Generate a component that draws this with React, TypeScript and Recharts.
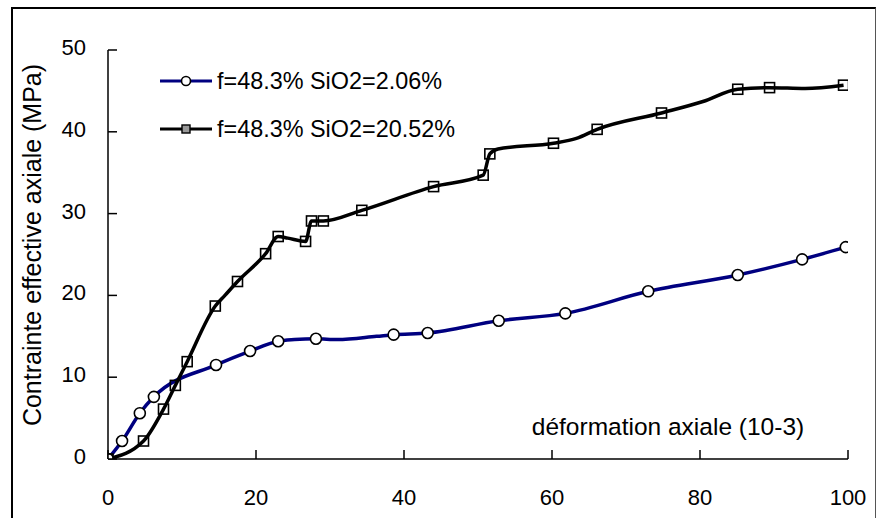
import React from "react";
import { LineChart, Line, XAxis, YAxis } from "recharts";

// lectures sur la courbe f=48.3% SiO2=2.06% (points avec marqueur)
const blueStrain = [0, 1.9, 4.3, 6.2, 14.6, 19.2, 23, 28.1, 38.6, 43.2, 52.8, 61.8, 73, 85.1, 93.8, 99.7];
const blueStress = [0, 2.2, 5.6, 7.6, 11.5, 13.2, 14.4, 14.7, 15.2, 15.4, 16.9, 17.8, 20.5, 22.5, 24.4, 25.9];
// points de la courbe sans marqueur
const blueExtraStrain = [25.2, 31, 36.3];
const blueExtraStress = [14.6, 14.6, 15.0];

// f=48.3% SiO2=20.52%
const blackStrain = [0, 4.8, 7.5, 9.1, 10.7, 14.5, 17.5, 21.3, 23.0, 26.7, 27.5, 29.1, 34.3, 44.0, 50.7, 51.6, 60.2, 66.1, 74.8, 85.1, 89.4, 99.4];
const blackStress = [0, 2.2, 6.1, 9.0, 11.9, 18.7, 21.7, 25.1, 27.2, 26.6, 29.1, 29.1, 30.4, 33.3, 34.7, 37.3, 38.6, 40.3, 42.3, 45.2, 45.4, 45.7];
const blackExtraStrain = [15.8, 24.3, 52.7, 63.3, 80.4, 94.2];
const blackExtraStress = [20.0, 27.0, 37.9, 39.2, 43.7, 45.3];

const xTicks = [0, 20, 40, 60, 80, 100];
const yTicks = [0, 10, 20, 30, 40, 50];

const seriesNames = ["f=48.3% SiO2=2.06%", "f=48.3% SiO2=20.52%"];
const xTitle = "déformation axiale (10-3)";
const yTitle = "Contrainte effective axiale (MPa)";

const FONT = "'Liberation Sans', Arial, sans-serif";
const BLUE = "#000080";

type Pt = { x: number; y: number; marker: boolean };

function buildSeries(xs: number[], ys: number[], ex: number[], ey: number[]): Pt[] {
  const pts: Pt[] = xs.map((x, i) => ({ x, y: ys[i], marker: true }));
  ex.forEach((x, i) => pts.push({ x, y: ey[i], marker: false }));
  return pts.sort((a, b) => a.x - b.x);
}

const blueData = buildSeries(blueStrain, blueStress, blueExtraStrain, blueExtraStress);
const blackData = buildSeries(blackStrain, blackStress, blackExtraStrain, blackExtraStress);

const circleDot = (p: any) => {
  if (!p.payload.marker) return <g key={`c${p.index}`} />;
  return <circle key={`c${p.index}`} cx={p.cx} cy={p.cy} r={5.5} fill="#fff" stroke="#000" strokeWidth={1.6} />;
};

const squareDot = (p: any) => {
  if (!p.payload.marker) return <g key={`s${p.index}`} />;
  return (
    <rect key={`s${p.index}`} x={p.cx - 5} y={p.cy - 5} width={10} height={10} fill="none" stroke="#000" strokeWidth={1.6} />
  );
};

const YTick = (p: any) => (
  <g>
    <line x1={p.x} x2={p.x + 9} y1={p.y} y2={p.y} stroke="#000" strokeWidth={1.5} />
    <text x={p.x - 22} y={p.y + 5} textAnchor="end" fontSize={22} fontFamily={FONT} fill="#000">
      {p.payload.value}
    </text>
  </g>
);

const XTick = (p: any) => (
  <g>
    <line x1={p.x} x2={p.x} y1={p.y} y2={p.y - 9} stroke="#000" strokeWidth={1.5} />
    <text x={p.x} y={p.y + 46} textAnchor="middle" fontSize={22} fontFamily={FONT} fill="#000">
      {p.payload.value}
    </text>
  </g>
);

function ChartLegend() {
  return (
    <svg
      width={340}
      height={80}
      style={{ position: "absolute", left: 158, top: 64, overflow: "visible" }}
    >
      <line x1={2} x2={54} y1={17} y2={17} stroke={BLUE} strokeWidth={3} />
      <circle cx={28} cy={17} r={4.5} fill="#fff" stroke="#000" strokeWidth={1.6} />
      <text x={59} y={25} fontSize={23.4} fontFamily={FONT} fill="#000">{seriesNames[0]}</text>
      <line x1={2} x2={54} y1={65} y2={65} stroke="#000" strokeWidth={3} />
      <rect x={24} y={61} width={8} height={8} fill="#999" stroke="#000" strokeWidth={1.4} />
      <text x={59} y={73} fontSize={23.4} fontFamily={FONT} fill="#000">{seriesNames[1]}</text>
    </svg>
  );
}

export default function App() {
  return (
    <div style={{ position: "fixed", left: 0, top: 0, width: 876, height: 518, background: "#fff", overflow: "hidden" }}>
      <div
        style={{
          position: "absolute",
          left: 11,
          top: 7,
          width: 862,
          height: 530,
          borderLeft: "2px solid #000",
          borderTop: "2px solid #000",
          borderRight: "1.5px solid #555",
        }}
      />
      <div style={{ position: "absolute", left: 0, top: 0 }}>
        <LineChart width={876} height={518} margin={{ top: 50, right: 28, left: 48, bottom: 14 }}>
          <XAxis
            type="number"
            dataKey="x"
            domain={[0, 100]}
            ticks={xTicks}
            allowDataOverflow
            tickSize={0}
            tickMargin={0}
            height={45}
            stroke="#000"
            strokeWidth={1.5}
            tick={<XTick />}
            label={() => (
              <text x={668} y={435} textAnchor="middle" fontSize={24.5} fontFamily={FONT} fill="#000">
                {xTitle}
              </text>
            )}
          />
          <YAxis
            type="number"
            dataKey="y"
            domain={[0, 50]}
            ticks={yTicks}
            allowDataOverflow
            tickSize={0}
            tickMargin={0}
            width={60}
            stroke="#000"
            strokeWidth={1.5}
            tick={<YTick />}
            label={() => (
              <text
                x={41}
                y={245}
                transform="rotate(-90 41 245)"
                textAnchor="middle"
                fontSize={25}
                fontFamily={FONT}
                fill="#000"
              >
                {yTitle}
              </text>
            )}
          />
          <Line
            data={blueData}
            dataKey="y"
            type="monotone"
            stroke={BLUE}
            strokeWidth={3.5}
            dot={circleDot}
            activeDot={false}
            isAnimationActive={false}
            name={seriesNames[0]}
          />
          <Line
            data={blackData}
            dataKey="y"
            type="monotone"
            stroke="#000"
            strokeWidth={3.5}
            dot={squareDot}
            activeDot={false}
            isAnimationActive={false}
            name={seriesNames[1]}
          />
        </LineChart>
      </div>
      <ChartLegend />
    </div>
  );
}
